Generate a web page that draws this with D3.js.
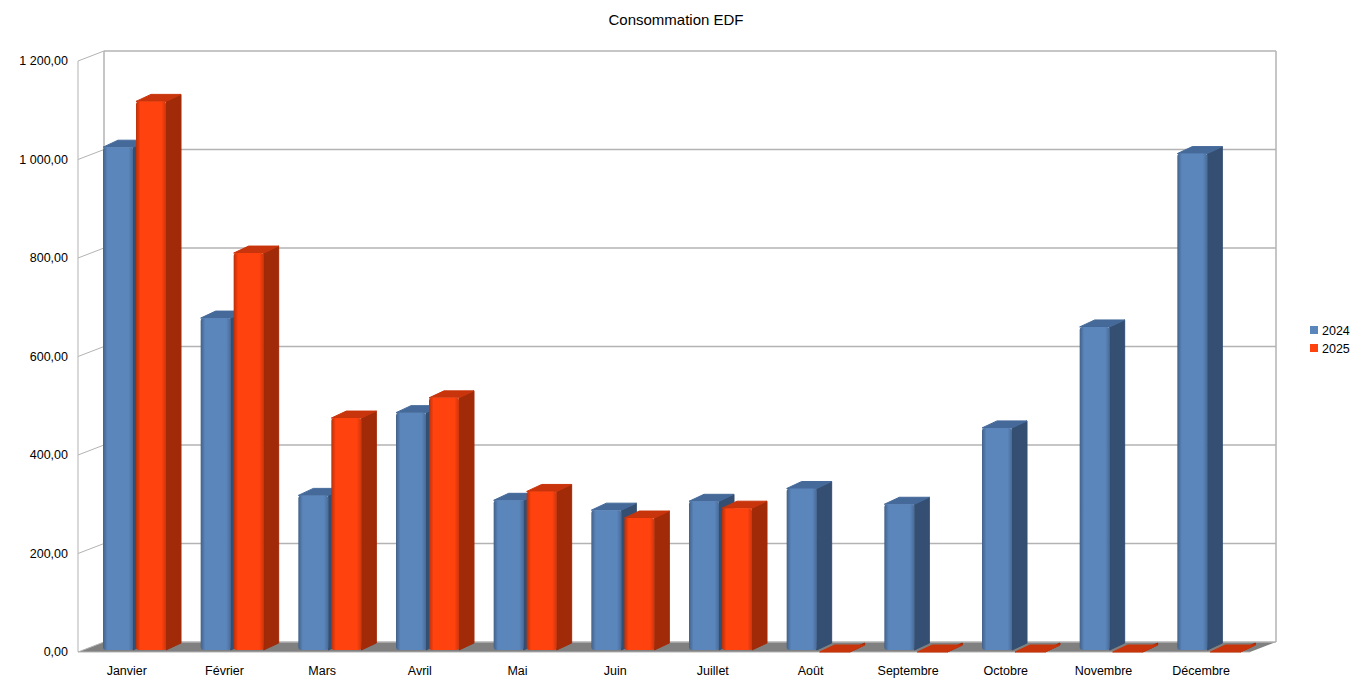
<!DOCTYPE html><html><head><meta charset="utf-8"><script src="https://cdn.jsdelivr.net/npm/d3@7"></script>
<style>body{margin:0;background:#fff}svg{font-family:"Liberation Sans",Arial,sans-serif}</style></head><body><svg id="c" width="1363" height="687"></svg>
<script>
const months=["Janvier","Février","Mars","Avril","Mai","Juin","Juillet","Août","Septembre","Octobre","Novembre","Décembre"];
const s2024=[1025,678,318,486,308,288,306,332,300,455,660,1012];
const s2025=[1118,810,475,516,326,272,292,0,0,0,0,0];
const ticks=[0,200,400,600,800,1000,1200];
const series=[{name:"2024",vals:s2024,c:"#5b86bc",d:"#344f72",t:"#456a9a"},{name:"2025",vals:s2025,c:"#ff420e",d:"#a12a08",t:"#c8340b"}];
const svg=d3.select("#c");
const y=d3.scaleLinear().domain([0,1200]).range([652,61]);
const x=d3.scaleBand().domain(months).range([78,1250]);
const WX=26,WY=-10; // wall offset
const fmt=v=>d3.format(",.2f")(v).replace(/,/g," ").replace(".",",");
const defs=svg.append("defs");
series.forEach((s,i)=>{const g=defs.append("linearGradient").attr("id","g"+i);
 g.append("stop").attr("offset","0").attr("stop-color",d3.color(s.c).darker(0.9));
 g.append("stop").attr("offset","0.15").attr("stop-color",s.c);
 g.append("stop").attr("offset","0.85").attr("stop-color",s.c);
 g.append("stop").attr("offset","1").attr("stop-color",d3.color(s.c).darker(0.6));});
// floor
svg.append("polygon").attr("points",`${78},${652} ${1250},${652} ${1250+WX},${652+WY} ${78+WX},${652+WY}`).attr("fill","#808080");
// back wall grid
ticks.forEach(t=>{svg.append("line").attr("x1",78+WX).attr("x2",1250+WX).attr("y1",y(t)+WY).attr("y2",y(t)+WY).attr("stroke","#b3b3b3").attr("stroke-width",1.5);
 svg.append("line").attr("x1",78).attr("x2",78+WX).attr("y1",y(t)).attr("y2",y(t)+WY).attr("stroke","#b3b3b3");
 svg.append("text").attr("x",68).attr("y",y(t)+4).attr("text-anchor","end").attr("font-size",12.5).text(fmt(t));});
svg.append("line").attr("x1",78+WX).attr("x2",78+WX).attr("y1",y(0)+WY).attr("y2",y(1200)+WY).attr("stroke","#b3b3b3").attr("stroke-width",1.5);
svg.append("line").attr("x1",1250+WX).attr("x2",1250+WX).attr("y1",y(0)+WY).attr("y2",y(1200)+WY).attr("stroke","#b3b3b3").attr("stroke-width",1.5);
svg.append("line").attr("x1",78).attr("x2",78).attr("y1",y(0)).attr("y2",y(1200)).attr("stroke","#b3b3b3");
svg.append("line").attr("x1",78).attr("x2",1250).attr("y1",652).attr("y2",652).attr("stroke","#b3b3b3");
// bars
const bw=30,dx=15,dy=-7;
months.forEach((m,k)=>{series.forEach((s,i)=>{
 const x0=x(m)+25+i*33,v=s.vals[k],yt=y(v),yb=y(0)-2,g=svg.append("g");
 g.append("polygon").attr("points",`${x0+bw},${yb} ${x0+bw+dx},${yb+dy} ${x0+bw+dx},${yt+dy} ${x0+bw},${yt}`).attr("fill",s.d).attr("stroke",s.d);
 g.append("polygon").attr("points",`${x0},${yt} ${x0+bw},${yt} ${x0+bw+dx},${yt+dy} ${x0+dx},${yt+dy}`).attr("fill",s.t).attr("stroke",s.t);
 if(v>0)g.append("rect").attr("x",x0).attr("y",yt).attr("width",bw).attr("height",yb-yt).attr("rx",3).attr("fill","url(#g"+i+")");
});
 svg.append("text").attr("x",x(m)+x.bandwidth()/2).attr("y",675).attr("text-anchor","middle").attr("font-size",12.5).text(m);
});
svg.append("text").attr("x",676).attr("y",25).attr("text-anchor","middle").attr("font-size",15).text("Consommation EDF");
series.forEach((s,i)=>{svg.append("rect").attr("x",1310).attr("y",326+i*18).attr("width",8).attr("height",8).attr("fill",s.c);
 svg.append("text").attr("x",1322).attr("y",335+i*18).attr("font-size",12.5).text(s.name);});
</script></body></html>
